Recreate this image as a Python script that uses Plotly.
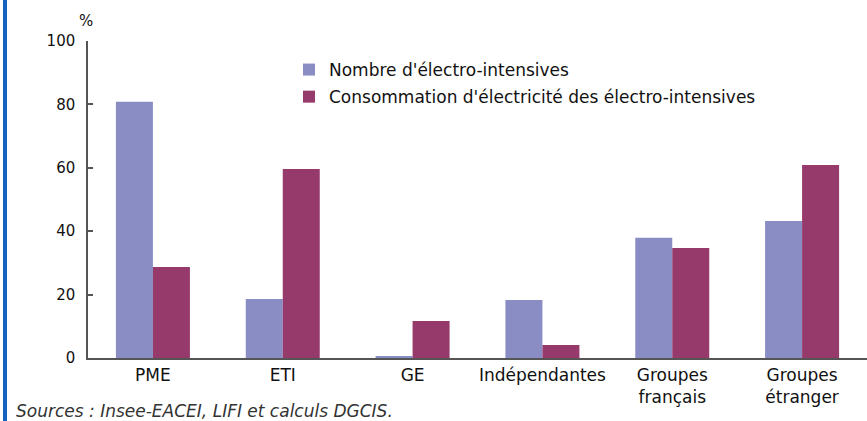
import plotly.graph_objects as go

categories = ["PME", "ETI", "GE", "Indépendantes", "Groupes<br>français", "Groupes<br>étranger"]
nombre = [80.8, 18.6, 0.6, 18.3, 37.9, 43.2]
consommation = [28.7, 59.6, 11.7, 4.1, 34.7, 60.9]
series_names = ["Nombre d'électro-intensives", "Consommation d'électricité des électro-intensives"]
y_ticks = [0, 20, 40, 60, 80, 100]

W, H = 867, 421
ml, mr, mt, mb = 88, 0, 41, 63
pw, ph = W - ml - mr, H - mt - mb

def px_x(x):
    return (x - ml) / pw

def px_y(y):
    return (H - mb - y) / ph

FONT = "DejaVu Sans, Liberation Sans, Arial, sans-serif"

fig = go.Figure()
fig.add_trace(go.Bar(x=categories, y=nombre, name=series_names[0],
                     marker=dict(color="#8A8DC4", line=dict(width=0)), legendgroup="a"))
fig.add_trace(go.Bar(x=categories, y=consommation, name=series_names[1],
                     marker=dict(color="#963A6C", line=dict(width=0)), legendgroup="b"))

fig.update_layout(
    width=W, height=H,
    margin=dict(l=ml, r=mr, t=mt, b=mb, autoexpand=False),
    paper_bgcolor="white", plot_bgcolor="white",
    font=dict(family=FONT, size=15, color="#111111"),
    barmode="group", bargap=0.43, bargroupgap=0,
    showlegend=True,
    legend=dict(x=px_x(289), y=px_y(52), xanchor="left", yanchor="top",
                bgcolor="rgba(0,0,0,0)", font=dict(size=17, color="#111111"),
                tracegroupgap=2, itemwidth=30),
    xaxis=dict(showgrid=False, showline=True, linecolor="#555555", linewidth=1.5,
               ticks="", range=[-0.5, 5.5], tickfont=dict(size=17, color="#111111"),
               ticklabelstandoff=1, fixedrange=True, zeroline=False),
    yaxis=dict(showgrid=False, showline=True, linecolor="#555555", linewidth=1.5,
               range=[0, 100], tickvals=y_ticks, ticks="inside", ticklen=5,
               tickcolor="#555555", tickwidth=1.5,
               ticklabelstandoff=8,
               tickfont=dict(size=15, color="#111111"), zeroline=False),
)

fig.add_annotation(text="%", xref="paper", yref="paper", x=px_x(86), y=px_y(21),
                   xanchor="center", yanchor="middle", showarrow=False,
                   font=dict(size=15, color="#111111"))
fig.add_annotation(text="<i>Sources : Insee-EACEI, LIFI et calculs DGCIS.</i>",
                   xref="paper", yref="paper", x=px_x(14), y=px_y(411),
                   xanchor="left", yanchor="middle", showarrow=False,
                   font=dict(size=17, color="#333333"))
fig.add_shape(type="rect", xref="paper", yref="paper",
              x0=px_x(3), x1=px_x(7), y0=px_y(H + 5), y1=px_y(-5),
              fillcolor="#1565C0", line=dict(width=0), layer="above")

fig.write_html("out.html", config={"displayModeBar": False},
               post_script="document.body.style.margin='0';document.body.style.padding='0';")
